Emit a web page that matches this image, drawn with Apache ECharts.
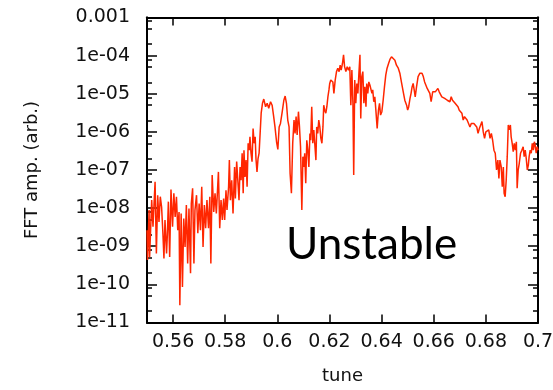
<!DOCTYPE html>
<html>
<head>
<meta charset="utf-8">
<title>FFT amplitude vs tune</title>
<script src="https://cdn.jsdelivr.net/npm/echarts@6/dist/echarts.min.js"></script>
<style>
  html, body { margin: 0; padding: 0; background: #fff; }
  #chart { width: 553px; height: 390px; }
</style>
</head>
<body>
<div id="chart"></div>
<script>
// tune (x) and log10 of the FFT amplitude (y)
const tune = [
    0.5500, 0.5502, 0.5508, 0.5510, 0.5518, 0.5523, 0.5531, 0.5536, 0.5541, 0.5546,
    0.5551, 0.5556, 0.5561, 0.5565, 0.5569, 0.5575, 0.5578, 0.5582, 0.5587, 0.5592,
    0.5598, 0.5603, 0.5608, 0.5613, 0.5618, 0.5623, 0.5626, 0.5631, 0.5636, 0.5641,
    0.5646, 0.5651, 0.5656, 0.5661, 0.5667, 0.5670, 0.5675, 0.5680, 0.5684, 0.5690,
    0.5695, 0.5700, 0.5705, 0.5710, 0.5715, 0.5720, 0.5725, 0.5730, 0.5736, 0.5741,
    0.5745, 0.5750, 0.5756, 0.5761, 0.5766, 0.5774, 0.5779, 0.5784, 0.5789, 0.5794,
    0.5798, 0.5803, 0.5807, 0.5813, 0.5816, 0.5820, 0.5825, 0.5830, 0.5836, 0.5839,
    0.5844, 0.5848, 0.5853, 0.5857, 0.5861, 0.5865, 0.5869, 0.5872, 0.5876, 0.5880,
    0.5884, 0.5888, 0.5892, 0.5895, 0.5899, 0.5903, 0.5907, 0.5911, 0.5915, 0.5918,
    0.5922, 0.5926, 0.5930, 0.5934, 0.5938, 0.5943, 0.5948, 0.5955, 0.5961, 0.5967,
    0.5974, 0.5980, 0.5986, 0.5991, 0.5997, 0.6002, 0.6007, 0.6012, 0.6018, 0.6025,
    0.6030, 0.6035, 0.6040, 0.6045, 0.6049, 0.6054, 0.6059, 0.6064, 0.6068, 0.6072,
    0.6076, 0.6081, 0.6085, 0.6089, 0.6094, 0.6098, 0.6102, 0.6105, 0.6109, 0.6113,
    0.6117, 0.6121, 0.6125, 0.6128, 0.6132, 0.6136, 0.6140, 0.6144, 0.6148, 0.6151,
    0.6155, 0.6159, 0.6163, 0.6167, 0.6171, 0.6175, 0.6178, 0.6182, 0.6186, 0.6190,
    0.6194, 0.6198, 0.6201, 0.6205, 0.6209, 0.6213, 0.6217, 0.6222, 0.6227, 0.6232,
    0.6237, 0.6241, 0.6245, 0.6250, 0.6254, 0.6258, 0.6263, 0.6268, 0.6273, 0.6278,
    0.6282, 0.6286, 0.6290, 0.6293, 0.6297, 0.6301, 0.6305, 0.6309, 0.6313, 0.6317,
    0.6320, 0.6324, 0.6328, 0.6332, 0.6336, 0.6340, 0.6343, 0.6347, 0.6351, 0.6355,
    0.6359, 0.6363, 0.6366, 0.6370, 0.6374, 0.6378, 0.6383, 0.6388, 0.6392, 0.6396,
    0.6401, 0.6406, 0.6411, 0.6416, 0.6421, 0.6427, 0.6432, 0.6438, 0.6444, 0.6451,
    0.6457, 0.6464, 0.6470, 0.6477, 0.6483, 0.6489, 0.6496, 0.6500, 0.6504, 0.6509,
    0.6513, 0.6517, 0.6521, 0.6525, 0.6529, 0.6534, 0.6540, 0.6547, 0.6550, 0.6555,
    0.6560, 0.6565, 0.6570, 0.6575, 0.6580, 0.6585, 0.6590, 0.6596, 0.6601, 0.6606,
    0.6611, 0.6616, 0.6621, 0.6626, 0.6631, 0.6636, 0.6642, 0.6647, 0.6652, 0.6657,
    0.6662, 0.6667, 0.6672, 0.6677, 0.6682, 0.6688, 0.6693, 0.6698, 0.6703, 0.6708,
    0.6713, 0.6718, 0.6723, 0.6728, 0.6734, 0.6739, 0.6744, 0.6749, 0.6754, 0.6759,
    0.6765, 0.6770, 0.6775, 0.6780, 0.6785, 0.6790, 0.6795, 0.6800, 0.6805, 0.6811,
    0.6816, 0.6821, 0.6826, 0.6831, 0.6836, 0.6841, 0.6846, 0.6850, 0.6854, 0.6859,
    0.6863, 0.6867, 0.6870, 0.6874, 0.6878, 0.6882, 0.6886, 0.6890, 0.6894, 0.6897,
    0.6901, 0.6905, 0.6909, 0.6913, 0.6917, 0.6920, 0.6924, 0.6928, 0.6933, 0.6938,
    0.6943, 0.6947, 0.6951, 0.6955, 0.6959, 0.6963, 0.6966, 0.6970, 0.6974, 0.6978,
    0.6982, 0.6986, 0.6989, 0.6993, 0.6997, 0.7000
];

const log10Amp = [
    -8.58, -9.36, -8.05, -9.29, -7.79, -8.49, -7.31, -9.19, -7.66, -8.36,
    -7.70, -7.97, -8.66, -9.32, -8.31, -9.19, -8.71, -7.83, -9.28, -7.51,
    -8.49, -7.61, -8.23, -7.70, -8.58, -8.10, -10.55, -8.14, -10.07, -8.27,
    -9.02, -7.92, -9.45, -8.01, -9.71, -7.88, -7.48, -9.45, -8.05, -7.66,
    -8.66, -7.88, -8.58, -7.44, -9.02, -7.92, -8.53, -7.79, -8.53, -7.70,
    -9.45, -7.13, -8.10, -7.61, -8.14, -7.05, -8.53, -7.79, -8.31, -7.75,
    -8.31, -7.53, -8.05, -7.44, -6.74, -7.79, -7.27, -8.14, -6.92, -7.75,
    -6.78, -6.74, -7.79, -6.92, -7.27, -6.56, -7.61, -6.48, -7.18, -6.74,
    -7.44, -6.30, -6.48, -6.13, -6.56, -6.78, -5.91, -6.30, -6.13, -6.70,
    -7.05, -6.70, -6.56, -6.04, -5.51, -5.25, -5.14, -5.34, -5.25, -5.38,
    -5.21, -5.30, -5.60, -5.87, -6.26, -6.46, -5.87, -5.78, -5.51, -5.17,
    -5.06, -5.25, -5.69, -5.87, -7.09, -7.61, -6.30, -5.69, -6.04, -5.60,
    -6.08, -5.47, -5.87, -6.39, -8.05, -6.65, -6.92, -6.56, -7.35, -6.22,
    -6.48, -6.92, -6.04, -6.22, -5.34, -6.30, -5.95, -5.91, -6.74, -5.87,
    -6.04, -5.69, -5.87, -6.17, -6.30, -5.87, -5.30, -5.43, -5.51, -5.34,
    -5.08, -4.90, -4.73, -4.64, -4.62, -4.69, -4.99, -4.64, -4.42, -4.33,
    -4.42, -4.25, -4.38, -4.20, -3.98, -4.29, -4.42, -4.29, -4.38, -4.29,
    -5.30, -4.38, -5.25, -7.13, -4.64, -5.25, -4.73, -4.99, -4.46, -3.98,
    -5.65, -4.55, -4.42, -5.25, -4.82, -5.34, -4.73, -4.99, -4.69, -4.77,
    -4.73, -4.99, -4.90, -5.21, -5.08, -5.43, -5.91, -5.43, -5.25, -5.56,
    -5.47, -5.17, -4.82, -4.51, -4.33, -4.20, -4.10, -4.03, -4.01, -4.12,
    -4.25, -4.33, -4.46, -4.73, -4.95, -5.17, -5.30, -5.43, -5.34, -5.12,
    -4.99, -4.82, -4.73, -4.90, -5.08, -4.82, -4.55, -4.46, -4.42, -4.46,
    -4.55, -4.69, -4.73, -4.86, -4.82, -4.99, -5.21, -4.95, -4.99, -4.95,
    -4.90, -4.86, -4.95, -4.99, -5.08, -5.03, -5.12, -5.08, -5.17, -5.12,
    -5.21, -5.08, -5.17, -5.12, -5.25, -5.21, -5.34, -5.43, -5.47, -5.51,
    -5.69, -5.60, -5.65, -5.69, -5.65, -5.87, -5.78, -5.73, -5.78, -5.73,
    -5.87, -6.04, -5.91, -5.82, -5.73, -6.00, -6.17, -6.00, -5.95, -5.95,
    -6.17, -6.04, -6.22, -6.48, -6.56, -7.00, -6.74, -7.22, -6.74, -6.92,
    -7.44, -6.92, -7.61, -7.70, -7.27, -6.65, -5.82, -5.95, -5.82, -6.13,
    -6.30, -6.52, -6.30, -6.48, -6.26, -7.48, -7.00, -6.83, -6.56, -6.48,
    -6.39, -6.65, -6.48, -6.70, -7.00, -6.87, -6.65, -6.48, -6.56, -6.30,
    -6.48, -6.26, -6.34, -6.56, -6.39, -6.48
];

// Ticks
const xTickValues = [0.56, 0.58, 0.60, 0.62, 0.64, 0.66, 0.68, 0.70];
const xTickLabels = ['0.56', '0.58', '0.6', '0.62', '0.64', '0.66', '0.68', '0.7'];
const yTickValues = [1e-11, 1e-10, 1e-9, 1e-8, 1e-7, 1e-6, 1e-5, 1e-4, 1e-3];
const yTickLabels = ['1e-11', '1e-10', '1e-09', '1e-08', '1e-07', '1e-06', '1e-05', '1e-04', '0.001'];
const yMinorTicks = [
    2e-11, 5e-11, 8e-11, 2e-10, 5e-10, 8e-10, 2e-9, 5e-9, 8e-9,
    2e-8, 5e-8, 8e-8, 2e-7, 5e-7, 8e-7, 2e-6, 5e-6, 8e-6,
    2e-5, 5e-5, 8e-5, 2e-4, 5e-4, 8e-4
];

const LABEL_FONT = 'DejaVu Sans';
const TEXT_COLOR = '#111';

const chart = echarts.init(document.getElementById('chart'), null, { renderer: 'canvas' });

const seriesData = tune.map((t, i) => [t, Math.pow(10, log10Amp[i])]);

function yLabel(v) {
    const lv = Math.log10(v);
    const i = yTickValues.findIndex(tv => Math.abs(Math.log10(tv) - lv) < 0.01);
    return i >= 0 ? yTickLabels[i] : '';
}
function xLabel(v) {
    const i = xTickValues.findIndex(tv => Math.abs(tv - v) < 1e-6);
    return i >= 0 ? xTickLabels[i] : '';
}

const axisLine = { show: true, lineStyle: { color: '#000', width: 2 } };

// eje log (y), con ticks a medida
function logAxis(position, ticks, len, withLabels) {
    return {
        type: 'log',
        logBase: 10,
        position: position,
        min: 1e-11,
        max: 1e-3,
        axisLine: axisLine,
        splitLine: { show: false },
        axisTick: {
            show: true, inside: true, length: len,
            customValues: ticks,
            lineStyle: { color: '#000', width: 1.5 }
        },
        axisLabel: withLabels ? {
            show: true,
            customValues: yTickValues,
            formatter: yLabel,
            margin: 17,
            fontFamily: LABEL_FONT,
            fontSize: 19,
            color: TEXT_COLOR
        } : { show: false }
    };
}

function linAxis(position, withLabels) {
    return {
        type: 'value',
        position: position,
        min: 0.55,
        max: 0.70,
        axisLine: axisLine,
        splitLine: { show: false },
        axisTick: {
            show: true, inside: true, length: 8,
            customValues: xTickValues,
            lineStyle: { color: '#000', width: 1.5 }
        },
        axisLabel: withLabels ? {
            show: true,
            customValues: xTickValues,
            formatter: xLabel,
            margin: 10,
            fontFamily: LABEL_FONT,
            fontSize: 19,
            color: TEXT_COLOR
        } : { show: false }
    };
}

const yLeft = logAxis('left', yTickValues, 10, true);
yLeft.name = 'FFT amp. (arb.)';
yLeft.nameLocation = 'middle';
yLeft.nameGap = 106;
yLeft.nameTextStyle = { fontFamily: LABEL_FONT, fontSize: 18, color: TEXT_COLOR };

const xBottom = linAxis('bottom', true);
xBottom.name = 'tune';
xBottom.nameLocation = 'middle';
xBottom.nameGap = 45;
xBottom.nameTextStyle = { fontFamily: LABEL_FONT, fontSize: 18, color: TEXT_COLOR };

chart.setOption({
    animation: false,
    backgroundColor: '#fff',
    grid: {
        left: 147,
        right: 15,
        top: 17.5,
        bottom: 67.5,
        outerBoundsMode: 'none'
    },
    xAxis: [xBottom, linAxis('top', false)],
    yAxis: [
        yLeft,
        logAxis('left', yMinorTicks, 5, false),
        logAxis('right', yTickValues, 10, false),
        logAxis('right', yMinorTicks, 5, false)
    ],
    series: [{
        type: 'line',
        xAxisIndex: 0,
        yAxisIndex: 0,
        data: seriesData,
        showSymbol: false,
        symbol: 'none',
        clip: true,
        lineStyle: { color: '#ff2600', width: 1.5 },
        z: 1
    }],
    graphic: [{
        type: 'text',
        x: 286,
        y: 245,
        style: {
            text: 'Unstable',
            font: '44px Lato',
            fill: '#000',
            verticalAlign: 'middle'
        }
    }]
});
</script>
</body>
</html>
